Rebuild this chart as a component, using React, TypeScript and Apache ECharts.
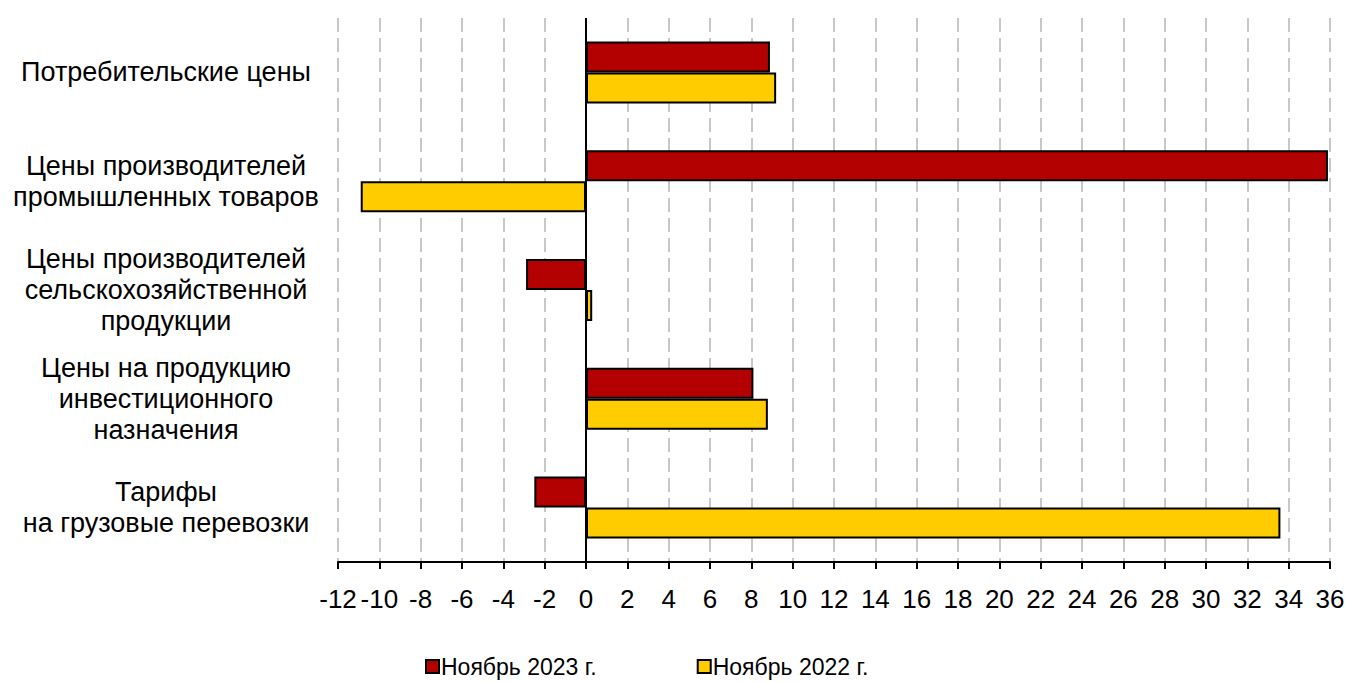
import React, { useEffect, useRef } from "react";
import * as echarts from "echarts";

const categories = [
  "Потребительские цены",
  "Цены производителей\nпромышленных товаров",
  "Цены производителей\nсельскохозяйственной\nпродукции",
  "Цены на продукцию\nинвестиционного\nназначения",
  "Тарифы\nна грузовые перевозки",
];
const seriesNames = ["Ноябрь 2023 г.", "Ноябрь 2022 г."];
const nov2023 = [8.9, 35.9, -2.9, 8.1, -2.5];
const nov2022 = [9.2, -10.9, 0.3, 8.8, 33.6];
const colors = ["#B30000", "#FFCC00"];

export default function App() {
  const ref = useRef<HTMLDivElement>(null);
  useEffect(() => {
    if (!ref.current) return;
    const chart = echarts.init(ref.current, undefined, { renderer: "svg" });
    const font = "'Liberation Sans', Arial, sans-serif";
    chart.setOption({
      animation: false,
      textStyle: { fontFamily: font },
      grid: { left: 338, right: 19, top: 18, bottom: 120 },
      legend: {
        top: 655,
        left: 425,
        padding: 0,
        itemWidth: 13,
        itemHeight: 13,
        itemGap: 100,
        icon: "rect",
        data: seriesNames,
        textStyle: { fontSize: 23, color: "#000", fontFamily: font, padding: [0, 0, 0, -3] },
      },
      xAxis: {
        type: "value",
        min: -12,
        max: 36,
        interval: 2,
        axisLine: { show: true, onZero: false, lineStyle: { color: "#000", width: 2 } },
        axisTick: { show: true, length: 7, lineStyle: { color: "#000", width: 2 } },
        axisLabel: { fontSize: 26, color: "#000", margin: 24, fontFamily: font },
        splitLine: { show: true, lineStyle: { color: "#c8c8c8", width: 2, type: [14, 6] } },
      },
      yAxis: {
        type: "category",
        inverse: true,
        data: categories,
        axisLine: { show: false },
        axisTick: { show: false },
        splitLine: { show: false },
        axisLabel: {
          fontSize: 27,
          color: "#000",
          align: "center",
          margin: 172,
          lineHeight: 31,
          fontFamily: font,
        },
      },
      series: [
        {
          name: seriesNames[0],
          type: "bar",
          data: nov2023,
          barWidth: 31,
          barGap: "0%",
          itemStyle: { color: colors[0], borderColor: "#000", borderWidth: 2 },
          markLine: {
            silent: true,
            symbol: "none",
            label: { show: false },
            lineStyle: { color: "#000", width: 2, type: "solid" },
            data: [{ xAxis: 0 }],
            z: 10,
          },
        },
        {
          name: seriesNames[1],
          type: "bar",
          data: nov2022,
          barWidth: 31,
          barGap: "0%",
          itemStyle: { color: colors[1], borderColor: "#000", borderWidth: 2 },
        },
      ],
    });
    return () => chart.dispose();
  }, []);
  return (
    <div
      ref={ref}
      style={{ position: "absolute", left: 0, top: 0, width: 1349, height: 682 }}
    />
  );
}
